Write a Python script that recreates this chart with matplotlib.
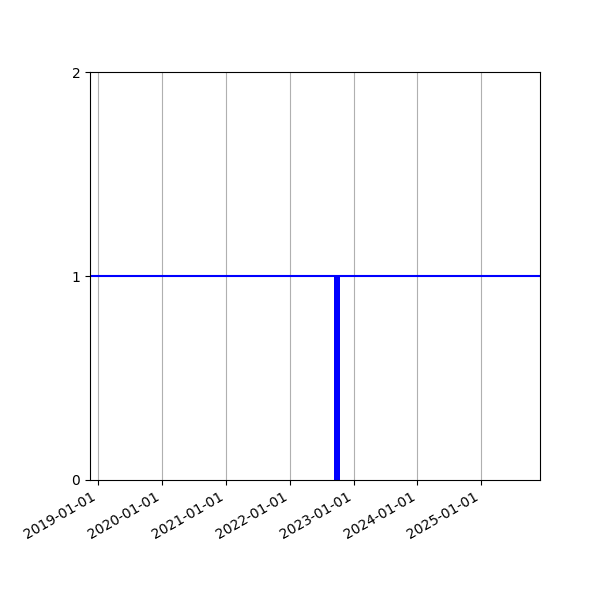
import datetime
import matplotlib
matplotlib.use('Agg')
import matplotlib.pyplot as plt
import matplotlib.dates as mdates

# data
bar_dates = [datetime.date(2022, 9, 29)]
bar_heights = [1]
bar_width_days = 33
hline_value = 1
x_start = datetime.date(2018, 11, 15)
x_end = datetime.date(2025, 12, 3)
y_ticks = [0, 1, 2]

fig, ax = plt.subplots(figsize=(6, 6), dpi=100)
ax.bar(bar_dates, bar_heights, width=bar_width_days, color='blue')
ax.axhline(hline_value, color='blue', linewidth=1.5)

ax.set_xlim(x_start, x_end)
ax.set_ylim(0, 2)
ax.set_yticks(y_ticks)
ax.xaxis.set_major_locator(mdates.YearLocator())
ax.xaxis.set_major_formatter(mdates.DateFormatter('%Y-%m-%d'))
ax.grid(True, axis='x')

fig.autofmt_xdate()
fig.subplots_adjust(left=0.15)
fig.savefig('out.png')
